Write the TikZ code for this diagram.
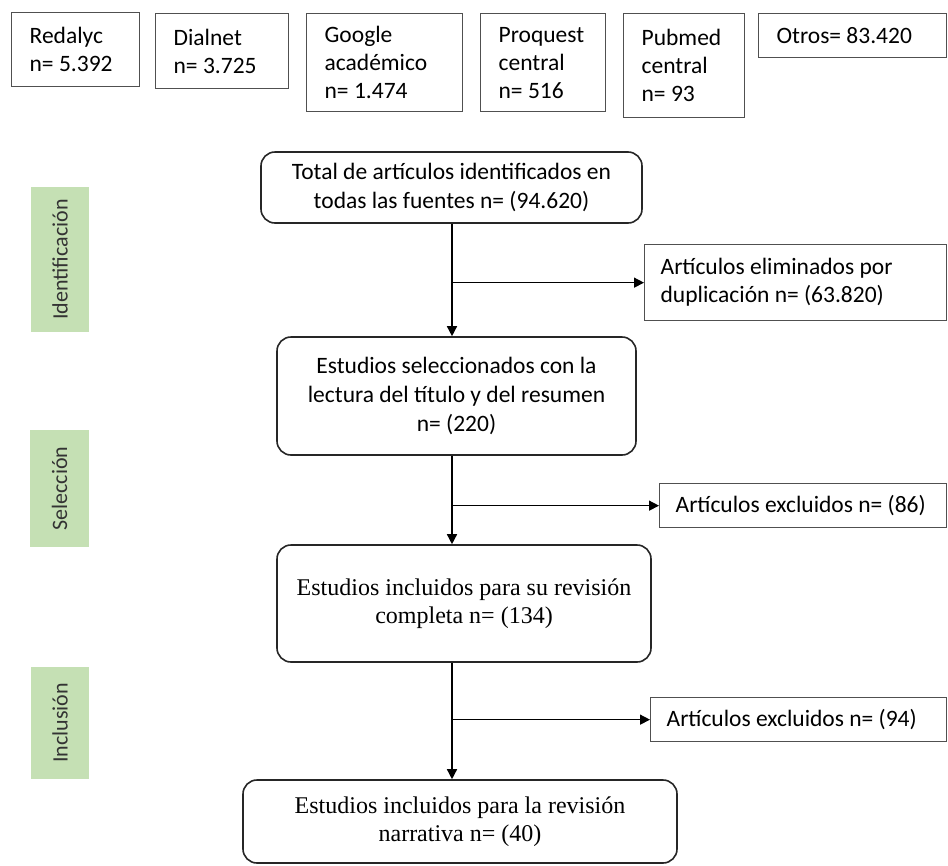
\documentclass[tikz,border=0pt]{standalone}
\usepackage{fontspec}
\setmainfont{Carlito}
\newfontfamily\tnr{Liberation Serif}
\usepackage{tikz}
\usetikzlibrary{arrows.meta}
\definecolor{faseverde}{HTML}{C5E0B4}
\definecolor{gris}{HTML}{505050}
\tikzstyle{src} = [draw=gris, line width=1.3pt, anchor=north west, align=left, inner xsep=18pt, font={\fontsize{23.5}{28}\selectfont}, execute at begin node={\spaceskip=0pt\xspaceskip=0pt}]
\tikzstyle{paso} = [draw=black!85, line width=1.6pt, rounded corners=14pt, align=center, font={\fontsize{23.5}{29}\selectfont}]
\tikzstyle{times} = [font={\tnr\fontsize{24}{28}\selectfont}]
\tikzstyle{excl} = [src, inner xsep=16pt]
\tikzstyle{etapa} = [fill=faseverde, rotate=90, text=black!80, font={\fontsize{22}{26}\selectfont}]
\tikzstyle{flecha} = [-{Triangle[length=10pt,width=10pt]}, line width=1.4pt]

\begin{document}
\begin{tikzpicture}[x=1pt,y=-1pt]
  \useasboundingbox (0,0) rectangle (948,865);
  % fuentes
  \node[src,text width=92pt,minimum height=74pt](red) at (11,12){Redalyc\\n= 5.392};
  \node[src,text width=97pt,minimum height=75pt](dial) at (155,13){Dialnet\\n= 3.725};
  \node[src,text width=120pt,minimum height=98pt](goog) at (306,13){Google\\académico\\n= 1.474};
  \node[src,text width=89pt,minimum height=98pt](proq) at (480,13){Proquest\\central\\n= 516};
  \node[src,text width=85pt,minimum height=104pt](pub) at (623,13){Pubmed\\central\\n= 93};
  \node[src,text width=152pt,minimum height=44pt](otros) at (758,13){Otros= 83.420};
  % fases
  \node[etapa,minimum width=145pt,minimum height=58pt](ident) at (60,259.5){Identificación};
  \node[etapa,minimum width=117pt,minimum height=59pt](selec) at (59.5,488.5){Selección};
  \node[etapa,minimum width=112pt,minimum height=58pt](inclu) at (60,723){Inclusión};
  % flujo
  \node[paso,minimum width=381pt,minimum height=71pt](total) at (451.5,187.5){Total de artículos identificados en\\todas las fuentes n= (94.620)};
  \node[paso,minimum width=359pt,minimum height=118pt](sel) at (456.5,396){Estudios seleccionados con la\\lectura del título y del resumen\\n= (220)};
  \node[paso,times,minimum width=374pt,minimum height=117pt](incl) at (464,603.5){Estudios incluidos para su revisión\\completa n= (134)};
  \node[paso,times,minimum width=434pt,minimum height=83pt](fin) at (460,821.5){Estudios incluidos para la revisión\\narrativa n= (40)};
  \node[excl,text width=270pt,minimum height=76pt](elim) at (644,244){Artículos eliminados por\\duplicación n= (63.820)};
  \node[excl,text width=255pt,minimum height=44pt](ex86) at (659,483){Artículos excluidos n= (86)};
  \node[excl,text width=264pt,minimum height=44pt](ex94) at (650,697){Artículos excluidos n= (94)};
  \coordinate (eje) at (452,0);
  \draw[flecha](eje|-total.south)--(eje|-sel.north);
  \draw[flecha](eje|-sel.south)--(eje|-incl.north);
  \draw[flecha](eje|-incl.south)--(eje|-fin.north);
  \draw[flecha](eje|-elim.west)--(elim.west);
  \draw[flecha](eje|-ex86.west)--(ex86.west);
  \draw[flecha](eje|-ex94.west)--(ex94.west);
\end{tikzpicture}
\end{document}
